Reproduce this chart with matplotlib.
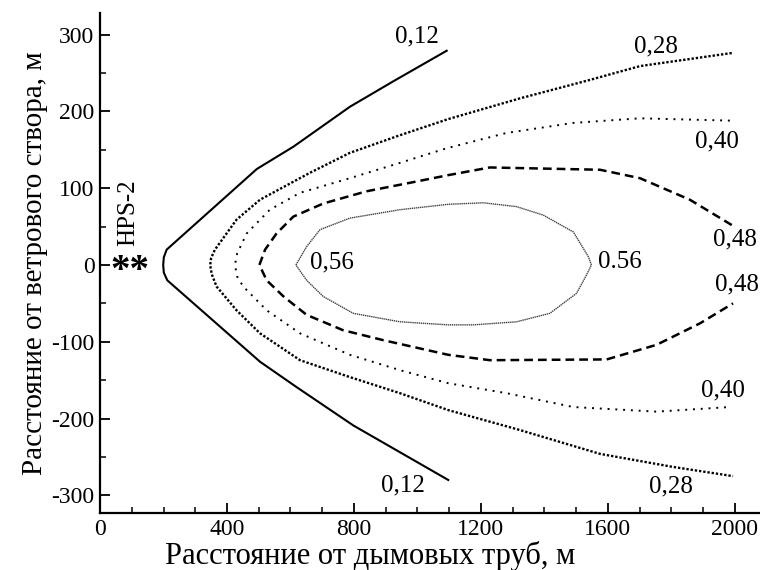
# Isolines of concentration downwind of the HPS-2 stacks

import matplotlib
matplotlib.use('Agg')
import matplotlib.pyplot as plt
from matplotlib.ticker import MultipleLocator

plt.rcParams['font.family'] = ['Liberation Serif', 'DejaVu Serif']
plt.rcParams['axes.unicode_minus'] = False

# isoline 0,12 (solid)
x12 = [1092, 923, 787, 609, 494, 210, 201, 199, 201, 212, 504, 619, 798, 1097]
y12 = [279, 239, 206, 154, 125, 20, 10, 0, -10, -20, -126, -159, -209, -280]

# isoline 0,28 (dense dots)
x28 = [1990, 1701, 1543, 1323, 1097, 945, 787, 661, 504, 430, 362, 350, 347,
       352, 367, 430, 504, 630, 787, 945, 1097, 1323, 1575, 1805, 1994]
y28 = [276, 259, 241, 217, 190, 169, 146, 120, 85, 59, 20, 9, 0,
       -12, -28, -59, -89, -124, -146, -167, -189, -215, -246, -263, -275]

# isoline 0,40 (sparse dots)
x40 = [1984, 1701, 1491, 1281, 1092, 945, 787, 630, 535, 462, 432, 425,
       432, 451, 525, 630, 787, 945, 1097, 1281, 1491, 1753, 1984]
y40 = [188, 191, 185, 172, 152, 133, 113, 94, 72, 41, 15, 0,
       -15, -28, -59, -89, -117, -137, -154, -167, -185, -191, -185]

# isoline 0,48 (dashed)
x48 = [1990, 1858, 1701, 1575, 1228, 1097, 976, 840, 703, 609, 556, 520, 502,
       525, 578, 651, 766, 893, 1097, 1228, 1596, 1753, 1890, 1994]
y48 = [52, 85, 113, 124, 127, 117, 107, 96, 80, 63, 41, 20, 0,
       -20, -41, -65, -85, -98, -117, -124, -123, -104, -76, -50]

# isoline 0,56 (closed, fine dots)
x56 = [617, 651, 693, 787, 945, 1097, 1207, 1312, 1396, 1491, 1538, 1548,
       1530, 1501, 1417, 1312, 1176, 1097, 945, 798, 703, 651, 617]
y56 = [0, 24, 46, 61, 72, 79, 81, 76, 65, 43, 11, 0,
       -15, -37, -63, -74, -78, -78, -74, -63, -41, -20, 0]

fig = plt.figure(figsize=(7.6, 5.7), dpi=100)
ax = fig.add_axes([0.1316, 0.1, 0.8684, 0.877])

ax.plot(x12, y12, color='black', lw=1.5, ls='-')
ax.plot(x28, y28, color='black', lw=1.7, ls=(0, (1, 0.8)))
ax.plot(x40, y40, color='black', lw=1.4, ls=(0, (1, 3)))
ax.plot(x48, y48, color='black', lw=1.8, ls=(0, (3.5, 2)))
ax.plot(x56, y56, color='0.25', lw=1.0, ls=(0, (1, 0.5)))

# isoline labels
fs = 18
ax.text(997, 298, '0,12', fontsize=fs, ha='center', va='center')
ax.text(955, -287, '0,12', fontsize=fs, ha='center', va='center')
ax.text(1750, 285, '0,28', fontsize=fs, ha='center', va='center')
ax.text(1800, -289, '0,28', fontsize=fs, ha='center', va='center')
ax.text(1942, 161, '0,40', fontsize=fs, ha='center', va='center')
ax.text(1963, -163, '0,40', fontsize=fs, ha='center', va='center')
ax.text(2000, 33, '0,48', fontsize=fs, ha='center', va='center')
ax.text(2005, -26, '0,48', fontsize=fs, ha='center', va='center')
ax.text(730, 3, '0,56', fontsize=fs, ha='center', va='center')
ax.text(1638, 4, '0.56', fontsize=fs, ha='center', va='center')

# the source
ax.text(88, 68, 'HPS-2', fontsize=fs, rotation=90, ha='center', va='center')
ax.text(94, -8, '**', fontsize=28, fontweight='bold', ha='center', va='center')

ax.set_xlim(0, 2079)
ax.set_ylim(-323, 328)
ax.xaxis.set_major_locator(MultipleLocator(400))
ax.xaxis.set_minor_locator(MultipleLocator(100))
ax.yaxis.set_major_locator(MultipleLocator(100))
ax.yaxis.set_minor_locator(MultipleLocator(50))
ax.set_yticks([-300, -200, -100, 0, 100, 200, 300])

for side in ['top', 'right']:
    ax.spines[side].set_visible(False)
for side in ['left', 'bottom']:
    ax.spines[side].set_linewidth(1.6)

ax.tick_params(which='major', direction='in', length=7, width=1.3, labelsize=17, pad=4)
ax.tick_params(which='minor', direction='in', length=4, width=1.1)

ax.set_xlabel('Расстояние от дымовых труб, м', fontsize=22, va='center')
ax.set_ylabel('Расстояние от ветрового створа, м', fontsize=21, labelpad=2)
# x label in the original sits left of the axes centre
ax.xaxis.set_label_coords(0.41, -0.086)

fig.savefig('out.png', dpi=100)
